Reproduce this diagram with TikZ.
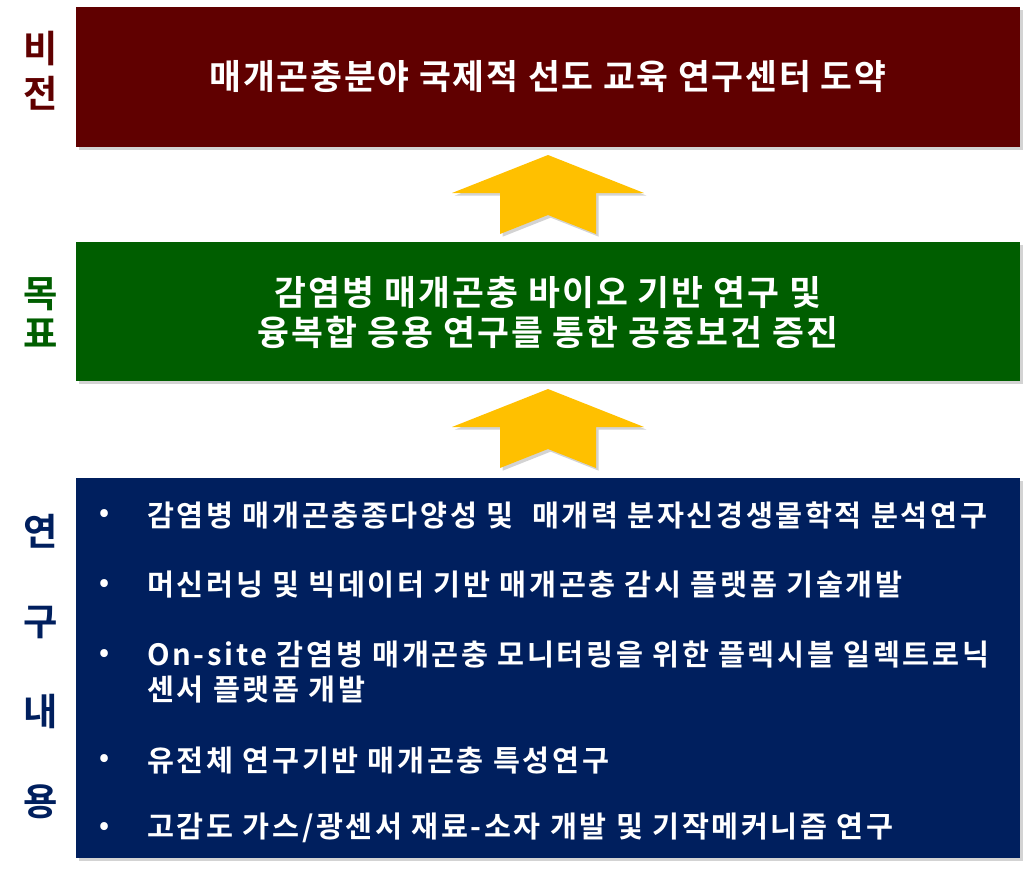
\documentclass[tikz,border=0pt]{standalone}
\usepackage{fontspec}
\setmainfont{Noto Sans CJK KR}[BoldFont={Noto Sans CJK KR Bold}]
\usepackage{xcolor}
\usepackage{tikz}
\usetikzlibrary{shadows, positioning}
\definecolor{visionred}{RGB}{96,0,0}
\definecolor{goalgreen}{RGB}{0,94,0}
\definecolor{worknavy}{RGB}{0,31,94}
\definecolor{arrowgold}{RGB}{255,192,0}

\begin{document}
\begin{tikzpicture}[
    x=0.75pt, y=-0.75pt,
    box/.style={minimum width=708pt, inner sep=0pt, text=white, font=\bfseries,
                drop shadow={shadow xshift=2pt, shadow yshift=-2pt, opacity=0.35}},
    side/.style={font=\bfseries\fontsize{28}{34}\selectfont, align=center, inner sep=0pt},
    item/.style={anchor=west, text=white, align=left, inner sep=0pt,
                 font=\bfseries\fontsize{22}{26.25}\selectfont\addfontfeatures{LetterSpace=9}},
    dot/.style={text=white, inner sep=0pt, font=\bfseries\fontsize{20}{24}\selectfont},
    upar/.style={fill=arrowgold,
                 drop shadow={shadow xshift=2pt, shadow yshift=-2pt, opacity=0.35}},
]
\useasboundingbox (0,0) rectangle (1031,872);

% boxes
\node[box, fill=visionred, minimum height=105pt] (vision) at (548,77) {};
\node[box, fill=goalgreen, minimum height=104.25pt] (goal) at (548,311.5) {};
\node[box, fill=worknavy, minimum height=285pt] (work) at (548,668) {};

% side labels
\node[side, text=visionred, font=\bfseries\fontsize{28}{34}\selectfont] (vlab) at (41,71) {비\\전};
\node[side, text=goalgreen, font=\bfseries\fontsize{28}{30}\selectfont] (glab) at (41,313) {목\\표};
\node[side, text=worknavy, font=\bfseries\fontsize{28}{67.5}\selectfont] (wlab) at (41,667) {연\\구\\내\\용};

% texts
\node[text=white, font=\bfseries\fontsize{26}{30}\selectfont\addfontfeatures{LetterSpace=5}] (vtxt) at (vision.center)
    {매개곤충분야 국제적 선도 교육 연구센터 도약};
\node[text=white, align=center, font=\bfseries\fontsize{26}{30}\selectfont\addfontfeatures{LetterSpace=6}] (gtxt) at (548,313)
    {감염병 매개곤충 바이오 기반 연구 및\\융복합 응용 연구를 통한 공중보건 증진};

\node[item] (i1) at (147,515) {감염병 매개곤충종다양성 및 \ 매개력 분자신경생물학적 분석연구};
\node[item] (i2) at (147,585) {머신러닝 및 빅데이터 기반 매개곤충 감시 플랫폼 기술개발};
\node[item] (i3) at (147,672.5) {On-site 감염병 매개곤충 모니터링을 위한 플렉시블 일렉트로닉\\센서 플랫폼 개발};
\node[item] (i4) at (147,760) {유전체 연구기반 매개곤충 특성연구};
\node[item] (i5) at (147,828) {고감도 가스/광센서 재료-소자 개발 및 기작메커니즘 연구};

\foreach \y [count=\i] in {515,585,655,760,828}
    \node[dot] (b\i) at (105,\y) {•};

% arrows
\coordinate (a1) at (548,155);
\coordinate (a2) at (548,389);
\foreach \c in {a1,a2}
    \fill[upar] (\c) -- ++(96,38) -- ++(-48,0) -- ++(0,41) -- ++(-48,-19)
        -- ++(-48,19) -- ++(0,-41) -- ++(-48,0) -- cycle;
\end{tikzpicture}
\end{document}
